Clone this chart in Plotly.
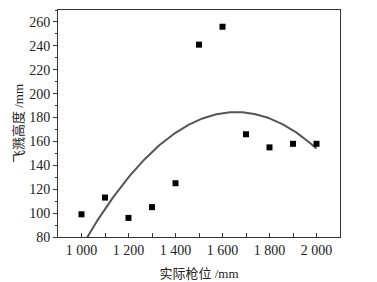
import numpy as np
import plotly.graph_objects as go

gun_pos = [1000, 1100, 1200, 1300, 1400, 1500, 1600, 1700, 1800, 1900, 2000]
splash_h = [99, 113, 96, 105, 125, 241, 256, 166, 155, 158, 158]

xtick_vals = [1000, 1200, 1400, 1600, 1800, 2000]
xtick_text = ["1 000", "1 200", "1 400", "1 600", "1 800", "2 000"]
ytick_vals = [80, 100, 120, 140, 160, 180, 200, 220, 240, 260]

# quadratic least-squares fit of the measured points (the curve in the chart)
coef = np.polyfit(gun_pos, splash_h, 2)
fit_x = np.linspace(min(gun_pos), max(gun_pos), 201)
fit_y = np.polyval(coef, fit_x)

FONT = "Liberation Serif, Noto Sans CJK SC, serif"

fig = go.Figure()
fig.add_trace(go.Scatter(x=fit_x, y=fit_y, mode="lines",
                         line=dict(color="#555555", width=2),
                         showlegend=False))
fig.add_trace(go.Scatter(x=gun_pos, y=splash_h, mode="markers",
                         marker=dict(symbol="square", size=6, color="black"),
                         showlegend=False))

fig.update_layout(
    width=377, height=282,
    margin=dict(l=58, r=37, t=10, b=45),
    paper_bgcolor="white", plot_bgcolor="white",
    font=dict(family=FONT, size=14, color="#222222"),
    xaxis=dict(range=[900, 2100], tickvals=xtick_vals, ticktext=xtick_text,
               ticks="inside", ticklen=4, tickcolor="#333333", automargin=False,
               minor=dict(dtick=100, ticks="inside", ticklen=4, tickcolor="#333333", showgrid=False),
               showgrid=False, zeroline=False, showline=True, linecolor="#333333", linewidth=1,
               mirror=True,
               title=dict(text="实际枪位 /mm", font=dict(size=13), standoff=12)),
    yaxis=dict(range=[80, 270], tickvals=ytick_vals,
               ticks="outside", ticklen=4, tickcolor="#333333", automargin=False,
               minor=dict(dtick=10, ticks="outside", ticklen=2, tickcolor="#333333", showgrid=False),
               showgrid=False, zeroline=False, showline=True, linecolor="#333333", linewidth=1,
               mirror=True,
               title=dict(text="飞溅高度 /mm", font=dict(size=13), standoff=2)),
)

fig.write_html("out.html", config={"displayModeBar": False},
               post_script="document.body.style.margin='0px';")
